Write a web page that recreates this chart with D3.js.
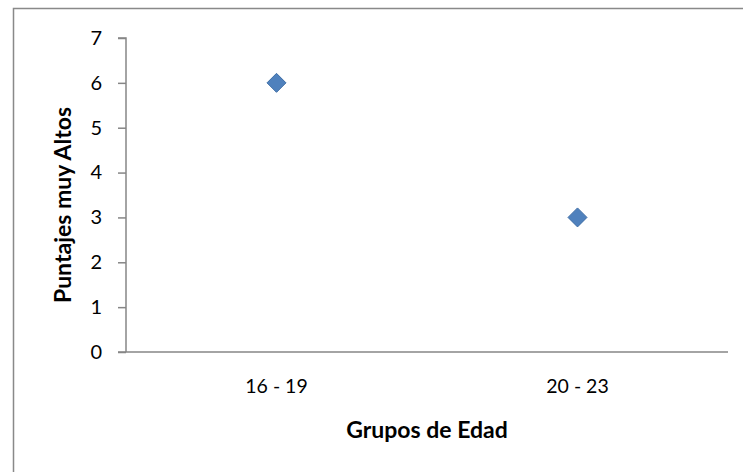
<!DOCTYPE html>
<html><head><meta charset="utf-8">
<script src="https://cdn.jsdelivr.net/npm/d3@7"></script>
<style>body{margin:0;background:#fff}svg{display:block}text{font-family:Lato,"Open Sans",sans-serif}</style>
</head><body><svg id="c" width="743" height="472"></svg>
<script>
const categories = ["16 - 19", "20 - 23"];
const values = [6, 3];
const yTicks = [0, 1, 2, 3, 4, 5, 6, 7];

const svg = d3.select("#c");
svg.append("rect").attr("x", 13.5).attr("y", 8.5).attr("width", 740).attr("height", 480)
  .attr("fill", "#fff").attr("stroke", "#898989").attr("stroke-width", 1.5);

const L = 126, R = 728, T = 38, B = 352;
const x = d3.scaleBand().domain(categories).range([L, R]);
const y = d3.scaleLinear().domain([0, 7]).range([B, T]);

const gy = svg.append("g").attr("transform", `translate(${L},0)`)
  .call(d3.axisLeft(y).tickValues(yTicks).tickSize(8).tickPadding(16).tickFormat(d3.format("d")));
gy.select(".domain").attr("stroke", "#868686").attr("stroke-width", 1.5).attr("d", `M-8,${T}H0V${B}`);
gy.selectAll(".tick line").attr("stroke", "#868686").attr("stroke-width", 1.5);
gy.selectAll(".tick text").attr("font-size", 20).attr("fill", "#000").attr("font-family", "Lato");

const gx = svg.append("g").attr("transform", `translate(0,${B})`)
  .call(d3.axisBottom(x).tickSize(0).tickPadding(27));
gx.select(".domain").attr("stroke", "#868686").attr("stroke-width", 1.5).attr("d", `M${L-8},0H${R}`);
gx.selectAll(".tick text").attr("font-size", 19.5).attr("fill", "#000").attr("font-family", "Lato");

const sym = d3.symbol().type(d3.symbolDiamond2).size(230);
svg.selectAll("path.pt").data(values).enter().append("path").attr("class", "pt")
  .attr("d", sym)
  .attr("transform", (d, i) => `translate(${x(categories[i]) + x.bandwidth() / 2},${y(d)})`)
  .attr("fill", "#4F81BD").attr("stroke", "#3f6ea6").attr("stroke-width", 1);

svg.append("text").attr("x", 427).attr("y", 438).attr("text-anchor", "middle")
  .attr("font-size", 23).attr("font-weight", "bold").text("Grupos de Edad");
svg.append("text").attr("transform", "translate(71,205) rotate(-90)").attr("text-anchor", "middle")
  .attr("font-size", 23).attr("font-weight", "bold").text("Puntajes muy Altos");
</script></body></html>
